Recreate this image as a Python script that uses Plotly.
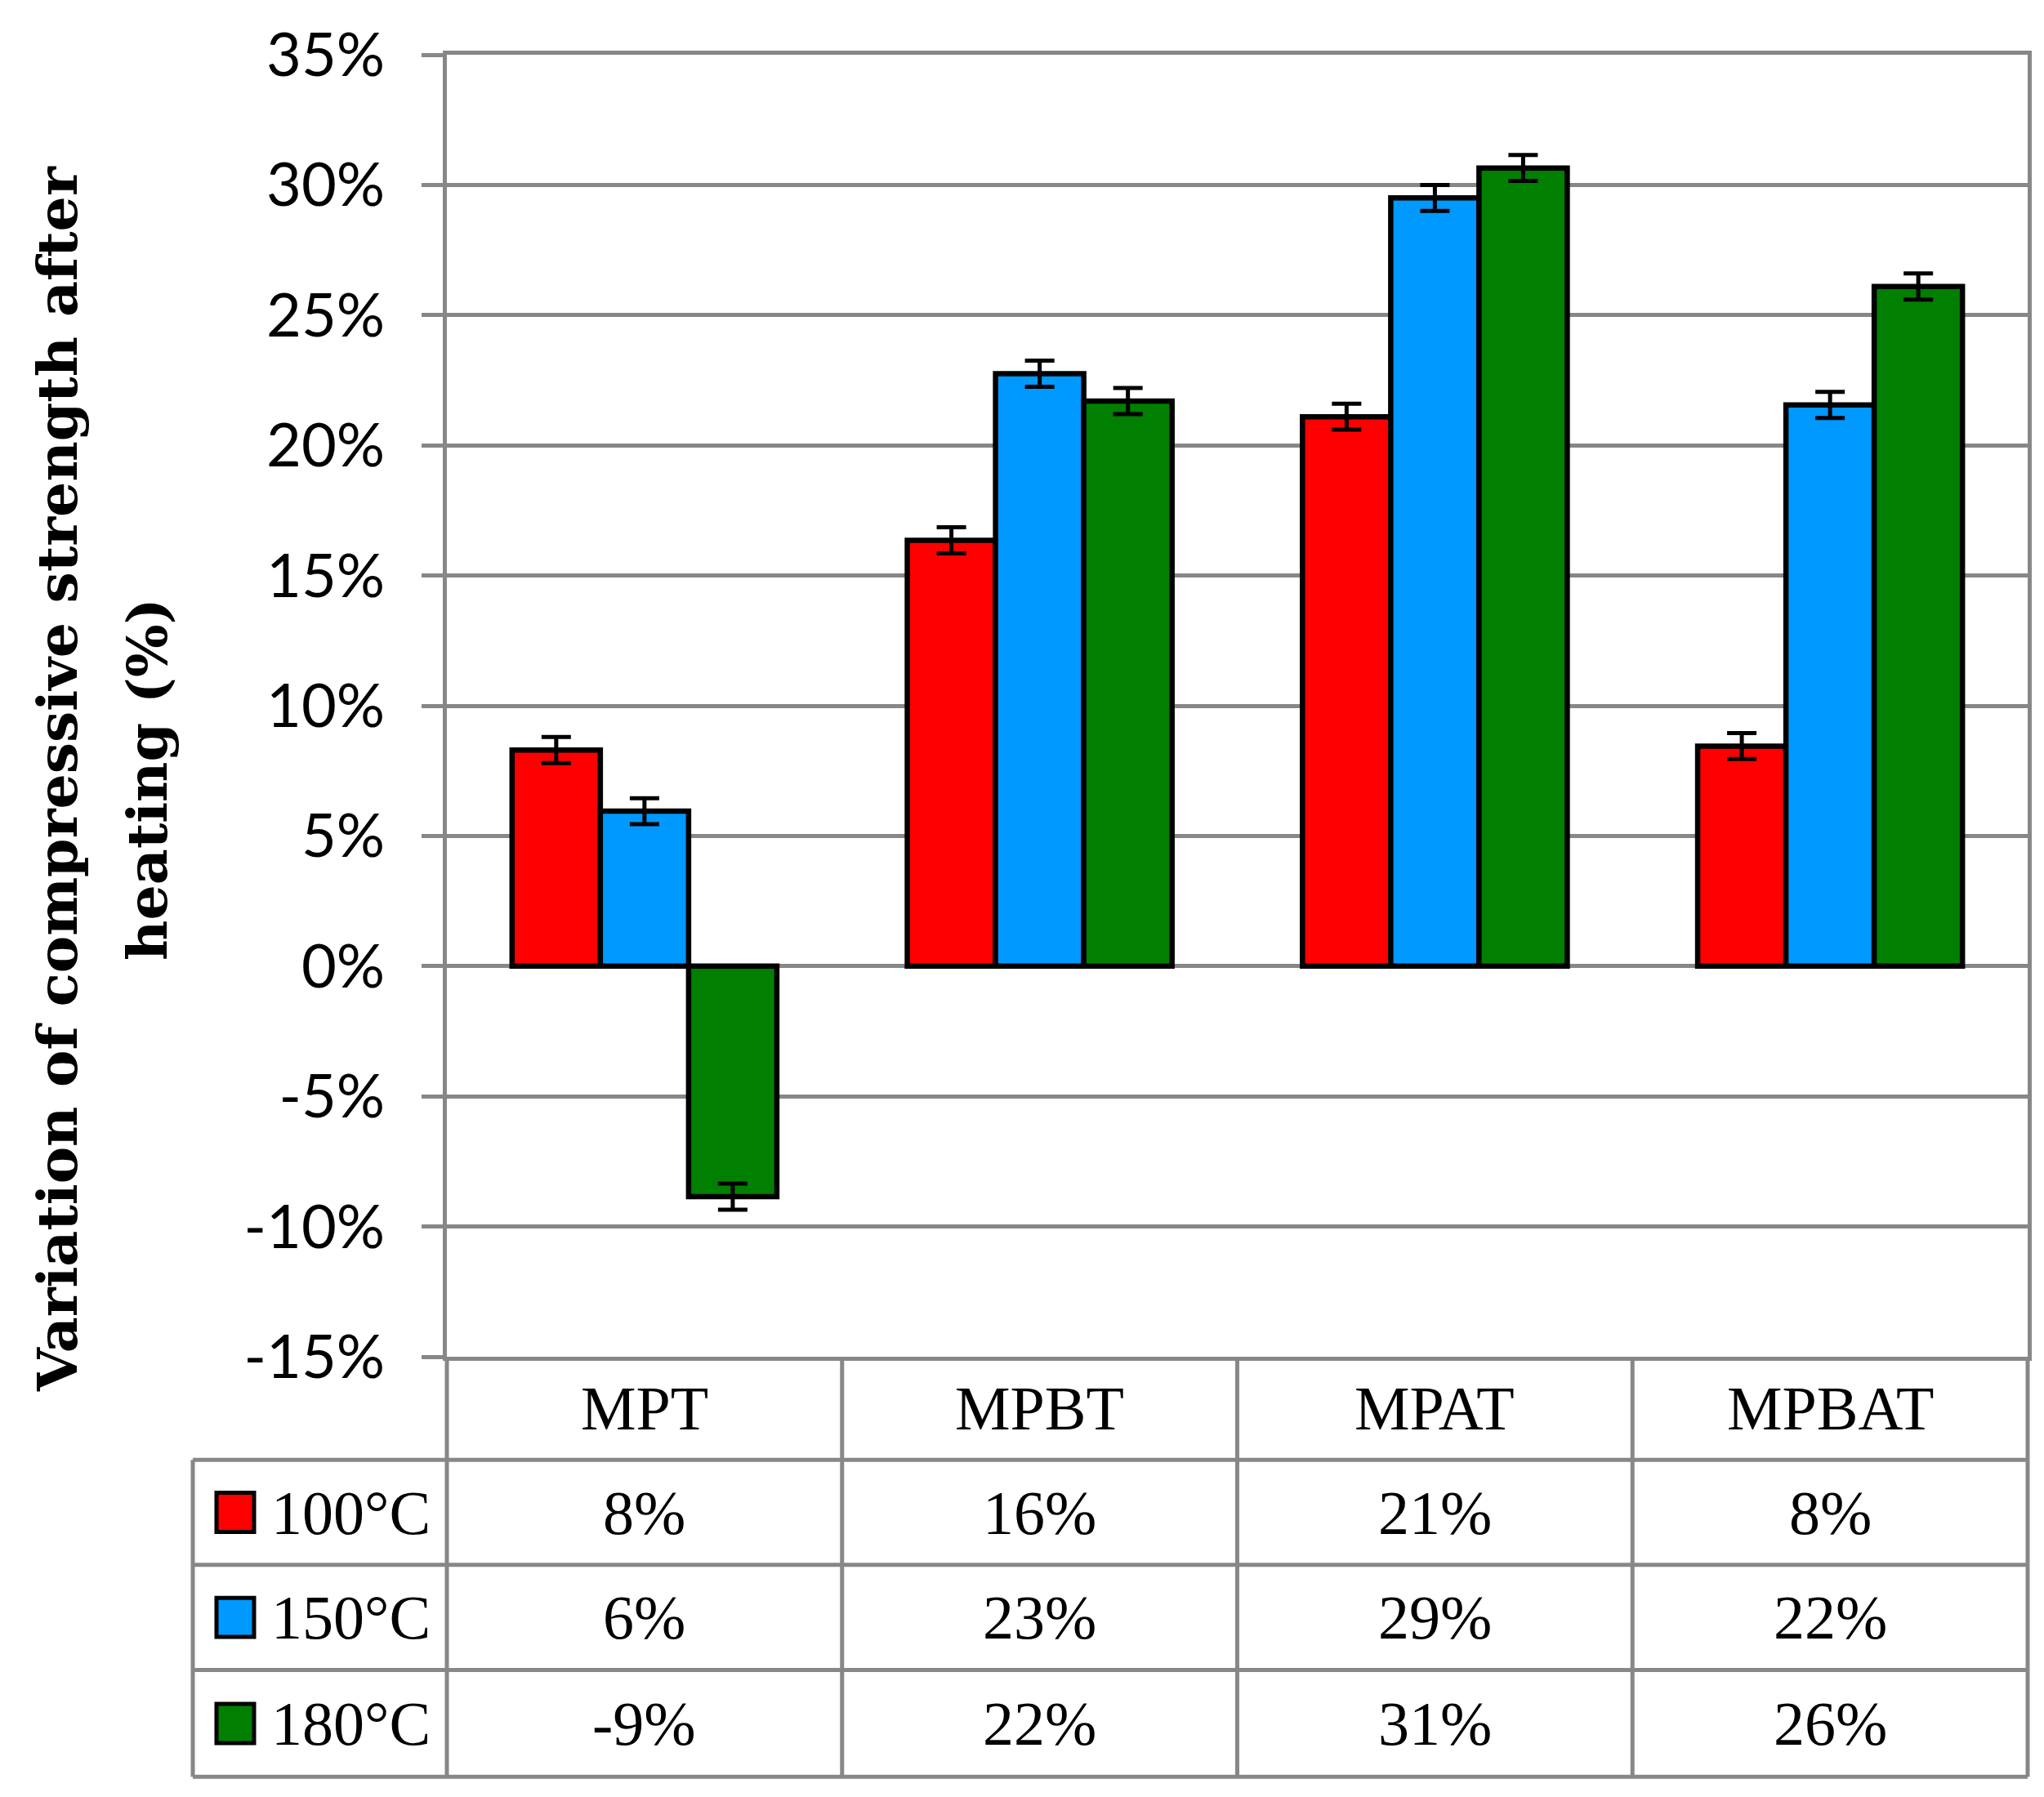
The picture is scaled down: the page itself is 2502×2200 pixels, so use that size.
import plotly.graph_objects as go

categories = ["MPT", "MPBT", "MPAT", "MPBAT"]
series_names = ["100°C", "150°C", "180°C"]
v100 = [8.3, 16.35, 21.1, 8.45]
v150 = [5.95, 22.75, 29.5, 21.55]
v180 = [-8.85, 21.7, 30.65, 26.1]
err100 = [0.5, 0.5, 0.5, 0.5]
err150 = [0.5, 0.5, 0.5, 0.5]
err180 = [0.5, 0.5, 0.5, 0.5]
table100 = [8, 16, 21, 8]
table150 = [6, 23, 29, 22]
table180 = [-9, 22, 31, 26]
tick_vals = [-15, -10, -5, 0, 5, 10, 15, 20, 25, 30, 35]
tick_text = ["-15%", "-10%", "-5%", "0%", "5%", "10%", "15%", "20%", "25%", "30%", "35%"]
colors = ["#FF0000", "#0099FF", "#007F00"]

O = 8  # page body margin
W, H = 2494, 2192
L, R, T, B = 539, 20, 57, 539
PW = W - L - R
PH = H - T - B
GRID = "#878787"


def px_x(px):
    return (px - O - L) / PW


def px_y(py):
    return (H - B - (py - O)) / PH


fig = go.Figure()
vals = [v100, v150, v180]
errs = [err100, err150, err180]
for name, v, e, c in zip(series_names, vals, errs, colors):
    fig.add_trace(go.Bar(
        x=categories, y=v, name=name,
        marker=dict(color=c, line=dict(color="black", width=6.5)),
        error_y=dict(type="data", array=e, visible=True, color="black",
                     thickness=5, width=18),
    ))

fig.update_layout(
    width=W, height=H,
    margin=dict(l=L, r=R, t=T, b=B),
    paper_bgcolor="white", plot_bgcolor="white",
    barmode="group", bargap=0.33, bargroupgap=0,
    showlegend=False,
)
fig.update_yaxes(
    range=[-15, 35], tickvals=tick_vals, ticktext=tick_text,
    showgrid=True, gridcolor=GRID, gridwidth=5,
    zeroline=True, zerolinecolor=GRID, zerolinewidth=5,
    showline=True, linecolor=GRID, linewidth=5, mirror=True,
    ticks="outside", ticklen=26, tickwidth=5, tickcolor=GRID,
    ticklabelstandoff=30,
    tickfont=dict(family="Lato", size=74, color="black"),
)
fig.update_xaxes(
    range=[-0.5, 3.5], showticklabels=False, showgrid=False, zeroline=False,
    showline=True, linecolor=GRID, linewidth=5, mirror=True, ticks="",
)

# table geometry (reference pixels)
row_edges = [1661, 1787.5, 1916, 2045, 2176]
left_edge = 236
line = dict(color=GRID, width=5)
shapes = []
for ry in row_edges[1:]:
    shapes.append(dict(type="line", xref="paper", yref="paper",
                       x0=px_x(left_edge), x1=1, y0=px_y(ry), y1=px_y(ry), line=line))
shapes.append(dict(type="line", xref="paper", yref="paper",
                   x0=px_x(left_edge), x1=px_x(left_edge),
                   y0=px_y(row_edges[1]), y1=px_y(row_edges[-1]), line=line))
n = len(categories)
for i in range(n + 1):
    xp = i / n
    shapes.append(dict(type="line", xref="paper", yref="paper",
                       x0=xp, x1=xp, y0=0, y1=px_y(row_edges[-1]), line=line))

annotations = []
serif = dict(family="Liberation Serif", size=76, color="black")
cat_y = px_y((row_edges[0] + row_edges[1]) / 2)
for cat in categories:
    annotations.append(dict(x=cat, y=cat_y, xref="x", yref="paper", text=cat,
                            showarrow=False, font=serif, xanchor="center", yanchor="middle"))
tables = [table100, table150, table180]
for r, (name, tv, c) in enumerate(zip(series_names, tables, colors)):
    yc = (row_edges[r + 1] + row_edges[r + 2]) / 2
    for cat, v in zip(categories, tv):
        annotations.append(dict(x=cat, y=px_y(yc), xref="x", yref="paper", text=f"{v}%",
                                showarrow=False, font=serif, xanchor="center", yanchor="middle"))
    annotations.append(dict(x=px_x(330), y=px_y(yc), xref="paper", yref="paper", text=name,
                            showarrow=False, font=serif, xanchor="left", yanchor="middle"))
    shapes.append(dict(type="rect", xref="paper", yref="paper",
                       x0=px_x(265), x1=px_x(311), y0=px_y(yc - 24), y1=px_y(yc + 24),
                       fillcolor=c, line=dict(color="black", width=5)))

title_font = dict(family="DejaVu Serif", size=68, color="black")
annotations.append(dict(x=px_x(70), y=px_y(953), xref="paper", yref="paper",
                        text="<b>Variation of compressive strength after</b>", textangle=-90,
                        showarrow=False, font=title_font, xanchor="center", yanchor="middle"))
annotations.append(dict(x=px_x(180), y=px_y(953), xref="paper", yref="paper",
                        text="<b>heating (%)</b>", textangle=-90,
                        showarrow=False, font=title_font, xanchor="center", yanchor="middle"))

fig.update_layout(shapes=shapes, annotations=annotations)
fig.write_html("out.html")
